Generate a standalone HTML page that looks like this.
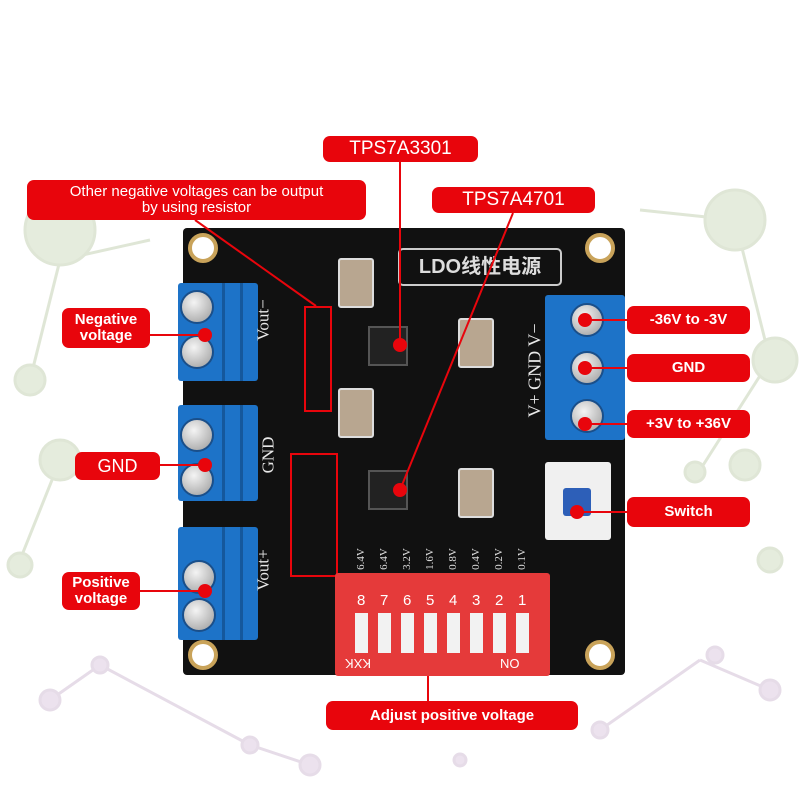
<!DOCTYPE html>
<html><head><meta charset="utf-8"><style>
body{margin:0;width:800px;height:800px;background:#fff;position:relative;overflow:hidden;font-family:"Liberation Sans","Noto Sans CJK SC",sans-serif}
.a{position:absolute}
.lab{position:absolute;background:#e8050c;color:#fff;border-radius:7px;text-align:center;font-weight:bold;display:flex;align-items:center;justify-content:center;line-height:1.05}
.blk{position:absolute;background:#1d73c8;border-radius:3px}
.rid{position:absolute;width:3px;background:#15589c}
.scr{position:absolute;width:30px;height:30px;border-radius:50%;background:radial-gradient(circle at 40% 35%,#f4f4f4,#9a9a9a);border:2px solid #1a4f8a}
.hole{position:absolute;width:22px;height:22px;border-radius:50%;background:#fff;border:4px solid #c9a35a}
.dot{position:absolute;width:14px;height:14px;border-radius:50%;background:#e8050c}
.cap{position:absolute;background:#b8a690;border:2px solid #ddd;border-radius:3px}
.chip{position:absolute;width:36px;height:36px;background:#222;border:2px solid #555}
.sw{position:absolute;width:13px;height:40px;background:#f2f2f2;top:613px}
.silk{position:absolute;color:#e8e8e8;font-family:"Liberation Serif",serif;font-size:17px;transform:rotate(-90deg);transform-origin:center;white-space:nowrap}
.v{position:absolute;color:#ddd;font-family:"Liberation Serif",serif;font-size:11px;transform:rotate(-90deg);top:553px}
.n{position:absolute;color:#fff;font-size:15px;top:592px}
</style></head><body>
<svg class="a" style="left:0;top:0" width="800" height="800">
<g stroke="#dfe6d6" stroke-width="3" fill="#e5ecdd">
<line x1="60" y1="260" x2="30" y2="380"/><line x1="60" y1="260" x2="150" y2="240"/><line x1="735" y1="220" x2="770" y2="360"/><line x1="735" y1="220" x2="640" y2="210"/><line x1="770" y1="360" x2="700" y2="470"/><line x1="60" y1="460" x2="20" y2="560"/>
<circle cx="60" cy="230" r="35"/><circle cx="735" cy="220" r="30"/><circle cx="775" cy="360" r="22"/><circle cx="30" cy="380" r="15"/><circle cx="60" cy="460" r="20"/><circle cx="745" cy="465" r="15"/><circle cx="695" cy="472" r="10"/><circle cx="770" cy="560" r="12"/><circle cx="20" cy="565" r="12"/>
</g>
<g stroke="#e6dce8" stroke-width="3" fill="#ece2ee">
<line x1="100" y1="665" x2="50" y2="700"/><line x1="100" y1="665" x2="250" y2="745"/><line x1="250" y1="745" x2="310" y2="765"/><line x1="700" y1="660" x2="770" y2="690"/><line x1="600" y1="730" x2="700" y2="660"/>
<circle cx="100" cy="665" r="8"/><circle cx="50" cy="700" r="10"/><circle cx="250" cy="745" r="8"/><circle cx="310" cy="765" r="10"/><circle cx="715" cy="655" r="8"/><circle cx="770" cy="690" r="10"/><circle cx="600" cy="730" r="8"/><circle cx="460" cy="760" r="6"/>
</g>
</svg>
<div class="a" style="left:183px;top:228px;width:442px;height:447px;background:#111;border-radius:4px"></div>
<div class="hole" style="left:188px;top:233px"></div><div class="hole" style="left:585px;top:233px"></div>
<div class="hole" style="left:188px;top:640px"></div><div class="hole" style="left:585px;top:640px"></div>
<div class="a" style="left:398px;top:248px;width:160px;height:34px;border:2px solid #ccc;border-radius:5px;color:#ddd;font-size:20px;font-weight:bold;text-align:center;line-height:34px">LDO线性电源</div>
<div class="blk" style="left:178px;top:283px;width:80px;height:98px"></div>
<div class="blk" style="left:178px;top:405px;width:80px;height:96px"></div>
<div class="blk" style="left:178px;top:527px;width:80px;height:113px"></div>
<div class="blk" style="left:545px;top:295px;width:80px;height:145px"></div>
<div class="rid" style="left:222px;top:283px;height:98px"></div><div class="rid" style="left:240px;top:283px;height:98px"></div>
<div class="rid" style="left:222px;top:405px;height:96px"></div><div class="rid" style="left:240px;top:405px;height:96px"></div>
<div class="rid" style="left:222px;top:527px;height:113px"></div><div class="rid" style="left:240px;top:527px;height:113px"></div>
<div class="scr" style="left:180px;top:290px"></div><div class="scr" style="left:180px;top:335px"></div>
<div class="scr" style="left:180px;top:418px"></div><div class="scr" style="left:180px;top:463px"></div>
<div class="scr" style="left:182px;top:560px"></div><div class="scr" style="left:182px;top:598px"></div>
<div class="scr" style="left:570px;top:303px"></div><div class="scr" style="left:570px;top:351px"></div><div class="scr" style="left:570px;top:399px"></div>
<div class="silk" style="left:243px;top:310px">Vout−</div>
<div class="silk" style="left:250px;top:445px">GND</div>
<div class="silk" style="left:243px;top:560px">Vout+</div>
<div class="silk" style="left:488px;top:360px;font-size:18px">V+ GND V−</div>
<div class="a" style="left:545px;top:462px;width:66px;height:78px;background:#f0f0f0;border-radius:3px"></div>
<div class="a" style="left:563px;top:488px;width:28px;height:28px;background:#2d5fb8;border-radius:3px"></div>
<div class="cap" style="left:338px;top:258px;width:32px;height:46px"></div>
<div class="cap" style="left:458px;top:318px;width:32px;height:46px"></div>
<div class="cap" style="left:338px;top:388px;width:32px;height:46px"></div>
<div class="cap" style="left:458px;top:468px;width:32px;height:46px"></div>
<div class="chip" style="left:368px;top:326px"></div><div class="chip" style="left:368px;top:470px"></div>
<div class="a" style="left:304px;top:306px;width:24px;height:102px;border:2px solid #e8050c"></div>
<div class="a" style="left:290px;top:453px;width:44px;height:120px;border:2px solid #e8050c"></div>
<div class="v" style="left:350px">6.4V</div><div class="v" style="left:373px">6.4V</div><div class="v" style="left:396px">3.2V</div><div class="v" style="left:419px">1.6V</div><div class="v" style="left:442px">0.8V</div><div class="v" style="left:465px">0.4V</div><div class="v" style="left:488px">0.2V</div><div class="v" style="left:511px">0.1V</div>
<div class="a" style="left:335px;top:573px;width:215px;height:103px;background:#e53a3a;border-radius:3px"></div>
<div class="n" style="left:357px">8</div><div class="n" style="left:380px">7</div><div class="n" style="left:403px">6</div><div class="n" style="left:426px">5</div><div class="n" style="left:449px">4</div><div class="n" style="left:472px">3</div><div class="n" style="left:495px">2</div><div class="n" style="left:518px">1</div>
<div class="a" style="left:345px;top:656px;color:#fff;font-size:13px;transform:rotate(180deg)">KXK</div>
<div class="a" style="left:500px;top:656px;color:#fff;font-size:13px;transform:rotate(180deg)">ON</div>
<div class="sw" style="left:355px"></div><div class="sw" style="left:378px"></div><div class="sw" style="left:401px"></div><div class="sw" style="left:424px"></div><div class="sw" style="left:447px"></div><div class="sw" style="left:470px"></div><div class="sw" style="left:493px"></div><div class="sw" style="left:516px"></div>
<svg class="a" style="left:0;top:0" width="800" height="800" stroke="#e8050c" stroke-width="2">
<line x1="400" y1="162" x2="400" y2="345"/><line x1="513" y1="213" x2="400" y2="490"/><line x1="195" y1="220" x2="316" y2="306"/>
<line x1="150" y1="335" x2="205" y2="335"/><line x1="160" y1="465" x2="205" y2="465"/><line x1="140" y1="591" x2="205" y2="591"/>
<line x1="585" y1="320" x2="627" y2="320"/><line x1="585" y1="368" x2="627" y2="368"/><line x1="585" y1="424" x2="627" y2="424"/><line x1="577" y1="512" x2="627" y2="512"/>
<line x1="428" y1="676" x2="428" y2="701"/>
</svg>
<div class="dot" style="left:393px;top:338px"></div><div class="dot" style="left:393px;top:483px"></div>
<div class="dot" style="left:198px;top:328px"></div><div class="dot" style="left:198px;top:458px"></div><div class="dot" style="left:198px;top:584px"></div>
<div class="dot" style="left:578px;top:313px"></div><div class="dot" style="left:578px;top:361px"></div><div class="dot" style="left:578px;top:417px"></div><div class="dot" style="left:570px;top:505px"></div>
<div class="lab" style="left:323px;top:136px;width:155px;height:26px;font-size:19px;font-weight:normal">TPS7A3301</div>
<div class="lab" style="left:432px;top:187px;width:163px;height:26px;font-size:19px;font-weight:normal">TPS7A4701</div>
<div class="lab" style="left:27px;top:180px;width:339px;height:40px;font-size:15px;font-weight:normal">Other negative voltages can be output<br>by using resistor</div>
<div class="lab" style="left:62px;top:308px;width:88px;height:40px;font-size:15px">Negative<br>voltage</div>
<div class="lab" style="left:75px;top:452px;width:85px;height:28px;font-size:18px;font-weight:normal">GND</div>
<div class="lab" style="left:62px;top:572px;width:78px;height:38px;font-size:15px">Positive<br>voltage</div>
<div class="lab" style="left:627px;top:306px;width:123px;height:28px;font-size:15px">-36V to -3V</div>
<div class="lab" style="left:627px;top:354px;width:123px;height:28px;font-size:15px">GND</div>
<div class="lab" style="left:627px;top:410px;width:123px;height:28px;font-size:15px">+3V to +36V</div>
<div class="lab" style="left:627px;top:497px;width:123px;height:30px;font-size:15px">Switch</div>
<div class="lab" style="left:326px;top:701px;width:252px;height:29px;font-size:15px">Adjust positive voltage</div>
</body></html>
